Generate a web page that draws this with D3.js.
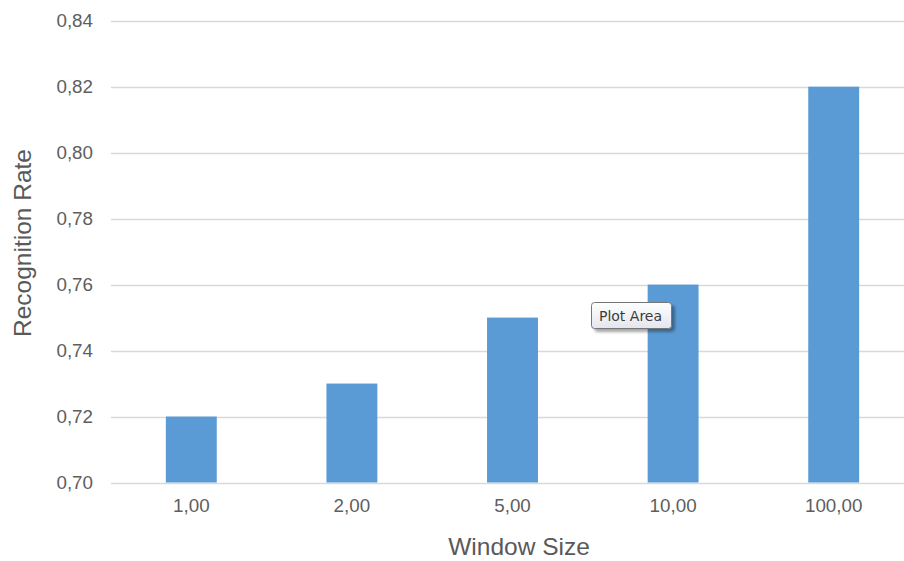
<!DOCTYPE html>
<html><head><meta charset="utf-8">
<script src="https://cdn.jsdelivr.net/npm/d3@7"></script>
<style>html,body{margin:0;padding:0;background:#fff;overflow:hidden}</style>
</head><body>
<svg id="chart" width="904" height="561"></svg>
<script>
const categories = ["1,00", "2,00", "5,00", "10,00", "100,00"];
const values = [0.72, 0.73, 0.75, 0.76, 0.82];
const yTicks = [0.70, 0.72, 0.74, 0.76, 0.78, 0.80, 0.82, 0.84];
const xTitle = "Window Size";
const yTitle = "Recognition Rate";
const tooltipText = "Plot Area";

const svg = d3.select("#chart");
const font = "'Liberation Sans', Arial, sans-serif";
const textColor = "#595959";

const x = d3.scaleBand().domain(categories).range([111, 914]).paddingInner(0.683).paddingOuter(0.3415);
const y = d3.scaleLinear().domain([0.70, 0.84]).range([482.5, 20.7]);
const fmt = d => d.toFixed(2).replace(".", ",");

// gridlines
svg.append("g").selectAll("line").data(yTicks).join("line")
  .attr("x1", 111).attr("x2", 904)
  .attr("y1", d => Math.round(y(d)) + 0.5).attr("y2", d => Math.round(y(d)) + 0.5)
  .attr("stroke", "#D9D9D9").attr("stroke-width", 1.3);

// y axis
const yAxis = svg.append("g").attr("transform", "translate(111,0)")
  .call(d3.axisLeft(y).tickValues(yTicks).tickFormat(fmt).tickSize(0).tickPadding(18));
yAxis.select(".domain").remove();
yAxis.selectAll("text").attr("font-family", font).attr("font-size", 18.8).attr("fill", "#5e5e5e");

// x axis
const xAxis = svg.append("g").attr("transform", "translate(0,482.5)")
  .call(d3.axisBottom(x).tickSize(0).tickPadding(16));
xAxis.select(".domain").remove();
xAxis.selectAll("text").attr("font-family", font).attr("font-size", 18.8).attr("fill", "#5e5e5e");

// bars
svg.append("g").selectAll("rect").data(values).join("rect")
  .attr("x", (d, i) => x(categories[i]))
  .attr("width", x.bandwidth())
  .attr("y", d => y(d))
  .attr("height", d => y(0.70) - y(d))
  .attr("fill", "#5B9BD5");

// axis titles
svg.append("text").attr("x", 519).attr("y", 555)
  .attr("text-anchor", "middle").attr("font-family", font).attr("font-size", 24.5)
  .attr("fill", textColor).text(xTitle);
svg.append("text").attr("transform", "translate(31,243) rotate(-90)")
  .attr("text-anchor", "middle").attr("font-family", font).attr("font-size", 24.5)
  .attr("fill", textColor).text(yTitle);

// tooltip
const defs = svg.append("defs");
const grad = defs.append("linearGradient").attr("id", "tipg").attr("x1", 0).attr("y1", 0).attr("x2", 0).attr("y2", 1);
grad.append("stop").attr("offset", "0%").attr("stop-color", "#ffffff");
grad.append("stop").attr("offset", "100%").attr("stop-color", "#e4e6ee");
const flt = defs.append("filter").attr("id", "tips").attr("x", "-20%").attr("y", "-30%").attr("width", "150%").attr("height", "180%");
flt.append("feDropShadow").attr("dx", 3).attr("dy", 3).attr("stdDeviation", 1.5).attr("flood-color", "#000").attr("flood-opacity", 0.35);
const tip = svg.append("g").attr("transform", "translate(591.5,302.5)");
tip.append("rect").attr("width", 80).attr("height", 26).attr("rx", 3)
  .attr("fill", "url(#tipg)").attr("stroke", "#767676").attr("stroke-width", 1)
  .attr("filter", "url(#tips)");
tip.append("text").attr("x", 39).attr("y", 18.5).attr("text-anchor", "middle")
  .attr("font-family", "'DejaVu Sans', Tahoma, sans-serif").attr("font-size", 14)
  .attr("fill", "#3b3b3b").text(tooltipText);
</script>
</body></html>
